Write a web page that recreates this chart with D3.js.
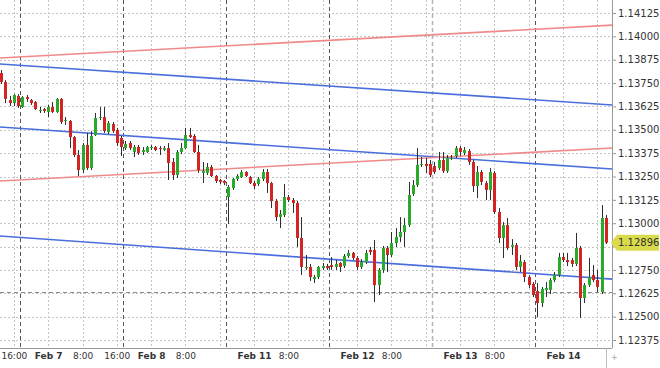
<!DOCTYPE html>
<html>
<head>
<meta charset="utf-8">
<script src="https://cdn.jsdelivr.net/npm/d3@7"></script>
<style>
  body { margin: 0; background: #fff; }
  svg text { font-family: "DejaVu Sans", Verdana, sans-serif; }
</style>
</head>
<body>
<div id="chart"></div>
<script>
// hourly EUR/USD candles, Feb 6 15:00 .. Feb 14 10:00 (weekend hours skipped)
var opens = [1.13804,1.13756,1.13659,1.13643,1.13681,1.13622,1.13675,1.13659,1.13649,1.13606,1.13611,1.13595,1.13622,1.13595,1.13665,1.13547,1.13547,1.13461,1.13365,1.13285,
  1.13419,1.13295,1.13472,1.13563,1.13568,1.13488,1.13531,1.13499,1.13456,1.13402,1.13429,1.13381,1.13408,1.13381,1.13381,1.13402,1.13408,1.13402,1.13392,1.13402,
  1.13328,1.13258,1.13381,1.13402,1.13472,1.13467,1.13381,1.13269,1.13269,1.13301,1.13253,1.13231,1.13226,1.13140,1.13188,1.13237,1.13247,1.13274,1.13247,1.13215,
  1.13210,1.13237,1.13274,1.13215,1.13119,1.13033,1.13044,1.13140,1.13124,1.13108,1.12921,1.12760,1.12766,1.12701,1.12712,1.12760,1.12771,1.12776,1.12766,1.12787,
  1.12771,1.12824,1.12841,1.12814,1.12766,1.12792,1.12857,1.12857,1.12669,1.12750,1.12867,1.12830,1.12894,1.12926,1.12953,1.12990,1.13156,1.13204,1.13317,1.13317,
  1.13317,1.13306,1.13295,1.13338,1.13279,1.13349,1.13360,1.13402,1.13376,1.13386,1.13328,1.13199,1.13274,1.13215,1.13178,1.13269,1.13060,1.12921,1.12990,1.12873,
  1.12883,1.12766,1.12792,1.12712,1.12675,1.12637,1.12573,1.12643,1.12643,1.12696,1.12723,1.12819,1.12803,1.12803,1.12782,1.12867,1.12600,1.12669,1.12723,1.12696,
  1.12632,1.13028];
var highs = [1.13820,1.13766,1.13681,1.13691,1.13691,1.13681,1.13686,1.13665,1.13654,1.13622,1.13617,1.13633,1.13649,1.13670,1.13670,1.13568,1.13552,1.13467,1.13392,1.13429,
  1.13483,1.13493,1.13590,1.13622,1.13622,1.13547,1.13542,1.13510,1.13467,1.13440,1.13440,1.13419,1.13419,1.13408,1.13413,1.13419,1.13413,1.13413,1.13413,1.13429,
  1.13349,1.13392,1.13429,1.13510,1.13510,1.13477,1.13419,1.13328,1.13322,1.13312,1.13258,1.13237,1.13231,1.13204,1.13242,1.13263,1.13285,1.13279,1.13253,1.13226,
  1.13247,1.13290,1.13290,1.13221,1.13130,1.13071,1.13210,1.13151,1.13135,1.13119,1.13033,1.12830,1.12782,1.12723,1.12771,1.12787,1.12782,1.12819,1.12803,1.12792,
  1.12835,1.12857,1.12846,1.12824,1.12808,1.12857,1.12873,1.12910,1.12760,1.12878,1.12878,1.12953,1.12974,1.13033,1.13028,1.13221,1.13231,1.13402,1.13354,1.13349,
  1.13338,1.13328,1.13381,1.13381,1.13365,1.13365,1.13413,1.13413,1.13408,1.13397,1.13338,1.13306,1.13285,1.13226,1.13295,1.13279,1.13081,1.13006,1.13028,1.12915,
  1.12894,1.12830,1.12803,1.12723,1.12685,1.12680,1.12659,1.12685,1.12707,1.12739,1.12841,1.12841,1.12841,1.12814,1.12948,1.12878,1.12680,1.12814,1.12776,1.12750,
  1.13097,1.13044];
var lows = [1.13745,1.13643,1.13627,1.13627,1.13617,1.13617,1.13649,1.13633,1.13606,1.13590,1.13590,1.13568,1.13590,1.13590,1.13531,1.13526,1.13402,1.13354,1.13253,1.13269,
  1.13285,1.13285,1.13467,1.13552,1.13483,1.13477,1.13483,1.13413,1.13360,1.13392,1.13392,1.13354,1.13365,1.13365,1.13376,1.13392,1.13386,1.13365,1.13386,1.13231,
  1.13231,1.13242,1.13370,1.13397,1.13456,1.13376,1.13269,1.13215,1.13258,1.13247,1.13215,1.13210,1.13204,1.12996,1.13178,1.13226,1.13242,1.13247,1.13210,1.13183,
  1.13199,1.13226,1.13162,1.13081,1.13012,1.12974,1.13033,1.13113,1.13055,1.12873,1.12723,1.12750,1.12691,1.12680,1.12701,1.12750,1.12750,1.12750,1.12750,1.12739,
  1.12760,1.12814,1.12803,1.12750,1.12755,1.12782,1.12830,1.12578,1.12616,1.12734,1.12739,1.12819,1.12873,1.12899,1.12873,1.12980,1.13146,1.13194,1.13301,1.13269,
  1.13247,1.13263,1.13285,1.13269,1.13269,1.13338,1.13349,1.13360,1.13365,1.13312,1.13167,1.13135,1.13204,1.13124,1.13124,1.13049,1.12894,1.12814,1.12857,1.12830,
  1.12750,1.12739,1.12685,1.12653,1.12605,1.12498,1.12552,1.12605,1.12621,1.12685,1.12712,1.12792,1.12771,1.12766,1.12771,1.12493,1.12573,1.12659,1.12685,1.12632,
  1.12621,1.12889];
var closes = [1.13756,1.13665,1.13643,1.13686,1.13627,1.13675,1.13665,1.13643,1.13611,1.13606,1.13601,1.13622,1.13595,1.13665,1.13542,1.13552,1.13461,1.13365,1.13285,1.13419,
  1.13295,1.13467,1.13563,1.13568,1.13493,1.13536,1.13493,1.13429,1.13408,1.13424,1.13402,1.13408,1.13376,1.13392,1.13408,1.13408,1.13392,1.13397,1.13402,1.13322,
  1.13258,1.13381,1.13402,1.13472,1.13461,1.13381,1.13285,1.13279,1.13301,1.13253,1.13226,1.13221,1.13215,1.13194,1.13237,1.13253,1.13274,1.13253,1.13215,1.13199,
  1.13237,1.13274,1.13215,1.13119,1.13033,1.13049,1.13140,1.13124,1.13108,1.12921,1.12766,1.12766,1.12712,1.12712,1.12766,1.12771,1.12760,1.12766,1.12782,1.12766,
  1.12824,1.12841,1.12814,1.12766,1.12792,1.12841,1.12846,1.12669,1.12750,1.12867,1.12830,1.12894,1.12926,1.12953,1.12990,1.13151,1.13204,1.13312,1.13317,1.13306,
  1.13258,1.13274,1.13338,1.13279,1.13349,1.13349,1.13402,1.13381,1.13392,1.13328,1.13199,1.13274,1.13221,1.13178,1.13274,1.13060,1.12921,1.12990,1.12867,1.12883,
  1.12766,1.12798,1.12712,1.12669,1.12616,1.12573,1.12648,1.12653,1.12696,1.12723,1.12819,1.12803,1.12792,1.12782,1.12867,1.12600,1.12669,1.12712,1.12696,1.12659,
  1.13028,1.12896];

// x axis ticks every 8 hours (candle index) and their labels
var timeTicks = [3, 11, 19, 27, 35, 43, 51, 59, 67, 75, 83, 91, 99, 107, 115, 123, 131, 139];
var timeLabels = ["16:00", "Feb 7", "8:00", "16:00", "Feb 8", "8:00", "", "Feb 11", "8:00", "",
  "Feb 12", "8:00", "", "Feb 13", "8:00", "", "Feb 14", ""];
// day separators (17:00), between candles
var daySeparators = [4.5, 28.5, 52.5, 76.5, 100.5, 124.5];

var priceTicks = [1.12375, 1.12500, 1.12625, 1.12750, 1.12875, 1.13000, 1.13125, 1.13250,
  1.13375, 1.13500, 1.13625, 1.13750, 1.13875, 1.14000, 1.14125];
var lastPrice = 1.12896;
var levelPrice = 1.12632;

// channel lines: [startIndex, startPrice, endIndex, endPrice]
var redTop = [-1, 1.13883, 143, 1.14061];
var blueTop = [-1, 1.13853, 143, 1.13632];
var blueMid = [-1, 1.13516, 143, 1.13289];
var redMid = [-1, 1.13225, 143, 1.13403];
var blueLow = [-1, 1.12933, 143, 1.12700];

var width = 660, height = 368;
var plotW = 612, plotH = 348;

var x = d3.scaleLinear().domain([0, 141]).range([1, 605.9]);
var y = d3.scaleLinear().domain([1.12375, 1.14125]).range([340, 13]);

var svg = d3.select("#chart").append("svg")
    .attr("width", width)
    .attr("height", height);

svg.append("rect").attr("width", width).attr("height", height).attr("fill", "#fff");

svg.append("clipPath").attr("id", "plot")
  .append("rect").attr("width", plotW).attr("height", plotH);

var plot = svg.append("g").attr("clip-path", "url(#plot)");

// grid
plot.selectAll(".hgrid").data(priceTicks)
  .enter().append("line")
    .attr("class", "hgrid")
    .attr("x1", 0).attr("x2", plotW)
    .attr("y1", function(d) { return Math.round(y(d)) + 0.5; })
    .attr("y2", function(d) { return Math.round(y(d)) + 0.5; })
    .attr("stroke", "#c4c4c4")
    .attr("stroke-dasharray", "2,2");

plot.selectAll(".vgrid").data(timeTicks)
  .enter().append("line")
    .attr("class", "vgrid")
    .attr("x1", function(d) { return Math.round(x(d)) + 0.5; })
    .attr("x2", function(d) { return Math.round(x(d)) + 0.5; })
    .attr("y1", 0).attr("y2", plotH)
    .attr("stroke", "#c4c4c4")
    .attr("stroke-dasharray", "2,2");

plot.selectAll(".sep").data(daySeparators)
  .enter().append("line")
    .attr("class", "sep")
    .attr("x1", function(d) { return Math.round(x(d)) + 0.5; })
    .attr("x2", function(d) { return Math.round(x(d)) + 0.5; })
    .attr("y1", 0).attr("y2", plotH)
    .attr("stroke", function(d, i) { return i == 4 ? "#b4b4b4" : "#555"; })
    .attr("stroke-width", function(d, i) { return i == 4 ? 1.5 : 1; })
    .attr("stroke-dasharray", "4,3");

plot.append("line")
    .attr("x1", 0).attr("x2", plotW)
    .attr("y1", Math.round(y(levelPrice)) + 0.5)
    .attr("y2", Math.round(y(levelPrice)) + 0.5)
    .attr("stroke", "#8a8a8a")
    .attr("stroke-dasharray", "4,3");

// channel lines
var channels = [
  {d: redTop, color: "#f08a8a"},
  {d: blueTop, color: "#4a6fdc"},
  {d: blueMid, color: "#4a6fdc"},
  {d: redMid, color: "#f08a8a"},
  {d: blueLow, color: "#4a6fdc"}
];
plot.selectAll(".channel").data(channels)
  .enter().append("line")
    .attr("class", "channel")
    .attr("x1", function(c) { return x(c.d[0]); })
    .attr("y1", function(c) { return y(c.d[1]); })
    .attr("x2", function(c) { return x(c.d[2]); })
    .attr("y2", function(c) { return y(c.d[3]); })
    .attr("stroke", function(c) { return c.color; })
    .attr("stroke-width", 1.6);

// candles
var candles = opens.map(function(o, i) {
  return {i: i, o: o, h: highs[i], l: lows[i], c: closes[i]};
});

var cg = plot.selectAll(".candle").data(candles)
  .enter().append("g")
    .attr("class", "candle");

cg.append("line")
    .attr("x1", function(d) { return Math.round(x(d.i)) + 0.5; })
    .attr("x2", function(d) { return Math.round(x(d.i)) + 0.5; })
    .attr("y1", function(d) { return y(d.h); })
    .attr("y2", function(d) { return y(d.l); })
    .attr("stroke", "#2e2e2e");

cg.append("rect")
    .attr("x", function(d) { return Math.round(x(d.i)) - 1; })
    .attr("width", 3)
    .attr("y", function(d) { return y(Math.max(d.o, d.c)); })
    .attr("height", function(d) { return Math.max(1, Math.abs(y(d.o) - y(d.c))); })
    .attr("fill", function(d) { return d.c >= d.o ? "#2aaa2a" : "#d42323"; });

// right price axis
var yAxis = svg.append("g")
    .attr("transform", "translate(" + plotW + ",0)")
    .call(d3.axisRight(y).tickValues(priceTicks).tickSize(4).tickPadding(2)
      .tickFormat(d3.format(".5f")));
yAxis.select(".domain").attr("stroke", "#999").attr("d", "M0.5,0V" + plotH);
yAxis.selectAll(".tick line").attr("stroke", "#999");
yAxis.selectAll("text").attr("fill", "#333").attr("font-size", 10)
    .attr("font-family", "DejaVu Sans, sans-serif");

// bottom time axis
var xAxis = svg.append("g")
    .attr("transform", "translate(0," + plotH + ")")
    .call(d3.axisBottom(x).tickValues(timeTicks).tickSize(0).tickPadding(5)
      .tickFormat(function(d, i) { return timeLabels[i]; }));
xAxis.select(".domain").attr("stroke", "#999").attr("d", "M0," + 0.5 + "H" + plotW);
xAxis.selectAll("text")
    .attr("fill", "#333")
    .attr("font-size", 9)
    .attr("font-family", "DejaVu Sans, sans-serif")
    .attr("font-weight", function(d, i) { return timeLabels[i].indexOf("Feb") == 0 ? "bold" : "normal"; });

svg.append("line")
    .attr("x1", 606.5).attr("x2", 606.5)
    .attr("y1", plotH).attr("y2", height)
    .attr("stroke", "#bbb");
svg.append("text")
    .attr("x", 611).attr("y", 360)
    .attr("font-size", 8)
    .attr("fill", "#aaa")
    .text("+");

// last price tag
var ly = y(lastPrice);
svg.append("path")
    .attr("d", "M" + (plotW - 1) + "," + ly + "L617," + (ly - 8) + "H659V" + (ly + 8) + "H617Z")
    .attr("fill", "#d9da4c");
svg.append("text")
    .attr("x", 618).attr("y", ly + 3.5)
    .attr("font-size", 10)
    .attr("fill", "#333")
    .text(d3.format(".5f")(lastPrice));
</script>
</body>
</html>
